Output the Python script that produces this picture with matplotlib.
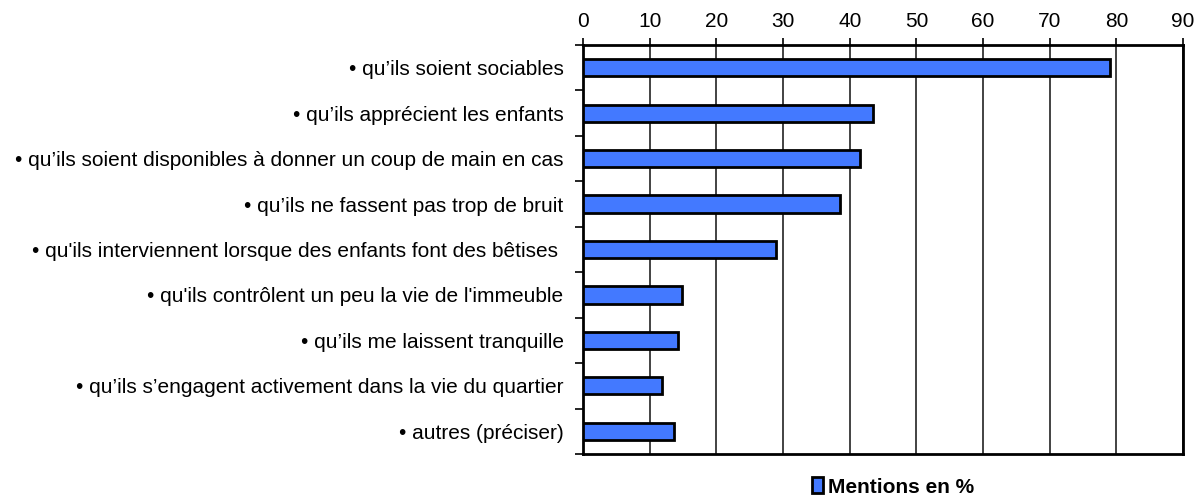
import matplotlib
matplotlib.use('Agg')
import numpy as np
import matplotlib.pyplot as plt
from matplotlib.patches import Patch

plt.rcParams['font.family'] = ['Liberation Sans', 'DejaVu Sans']

# Data
labels = [
    "• qu’ils soient sociables",
    "• qu’ils apprécient les enfants",
    "• qu’ils soient disponibles à donner un coup de main en cas",
    "• qu’ils ne fassent pas trop de bruit",
    "• qu'ils interviennent lorsque des enfants font des bêtises ",
    "• qu'ils contrôlent un peu la vie de l'immeuble",
    "• qu’ils me laissent tranquille",
    "• qu’ils s’engagent activement dans la vie du quartier",
    "• autres (préciser)",
]
values = [79.0, 43.5, 41.6, 38.6, 28.9, 14.9, 14.2, 11.8, 13.7]
xticks = list(range(0, 91, 10))
legend_label = "Mentions en %"

bar_color = '#4379FF'

fig = plt.figure(figsize=(11.94, 4.96), dpi=100)
ax = fig.add_axes([0.4883, 0.0847, 0.5025, 0.8246])

y = np.arange(len(labels))
ax.barh(y, values, height=0.38, color=bar_color, edgecolor='black',
        linewidth=2, zorder=3)

ax.set_xlim(0, 90)
ax.set_ylim(len(labels) - 0.5, -0.5)
ax.set_xticks(xticks)
ax.xaxis.tick_top()
ax.tick_params(axis='x', direction='out', length=5, width=1.2,
               labelsize=15, pad=5)
ax.grid(axis='x', color='#222222', linewidth=1.2, zorder=1)

ax.set_yticks(y)
ax.set_yticklabels(labels, fontsize=15)
ax.tick_params(axis='y', which='major', length=0, pad=14)
ax.set_yticks(np.arange(-0.5, len(labels)), minor=True)
ax.tick_params(axis='y', which='minor', direction='out', length=6, width=1.2)

for s in ax.spines.values():
    s.set_linewidth(2)
    s.set_color('black')

leg = fig.legend(handles=[Patch(facecolor=bar_color, edgecolor='black',
                                linewidth=2, label=legend_label)],
                 loc='center', bbox_to_anchor=(0.748, 0.018), frameon=False,
                 handlelength=0.55, handleheight=0.8, handletextpad=0.25,
                 prop={'weight': 'bold', 'size': 15})

fig.savefig('out.png', dpi=100)
